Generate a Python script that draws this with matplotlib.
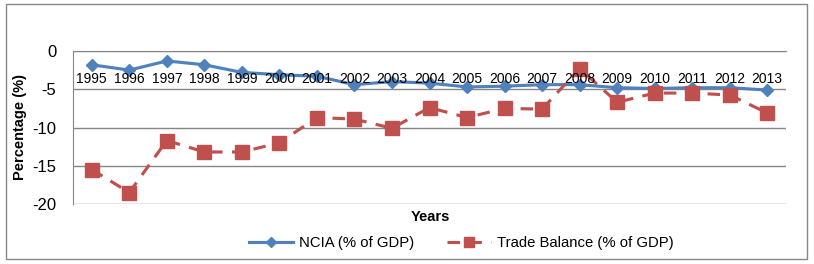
import matplotlib
matplotlib.use("Agg")
import matplotlib.pyplot as plt
from matplotlib.patches import Rectangle

years = ["1995", "1996", "1997", "1998", "1999", "2000", "2001", "2002", "2003", "2004",
         "2005", "2006", "2007", "2008", "2009", "2010", "2011", "2012", "2013"]
ncia = [-1.8, -2.5, -1.3, -1.8, -2.8, -3.1, -3.3, -4.4, -4.0, -4.2,
        -4.7, -4.6, -4.4, -4.4, -4.8, -4.9, -4.8, -4.8, -5.1]
trade = [-15.5, -18.5, -11.7, -13.2, -13.2, -12.0, -8.7, -8.9, -10.1, -7.4,
         -8.7, -7.5, -7.6, -2.3, -6.7, -5.5, -5.5, -5.75, -8.1]
yticks = [0, -5, -10, -15, -20]

plt.rcParams['font.family'] = ['Liberation Sans', 'DejaVu Sans']

fig = plt.figure(figsize=(8.14, 2.64), dpi=100)
ax = fig.add_axes([73/814, 1-204/264, (786-73)/814, (204-51)/264])

x = list(range(len(years)))
blue = '#4F81BD'
red = '#C0504D'
grid = '#868686'

ax.plot(x, ncia, color=blue, lw=2.25, marker='D', ms=6.5, label='NCIA (% of GDP)', zorder=2)
ax.plot(x, trade, color=red, lw=2.25, ls=(0, (4, 3)), marker='s', ms=9.5,
        label='Trade Balance (% of GDP)', zorder=2)

ax.set_xlim(-0.5, len(years) - 0.5)
ax.set_ylim(-20, 0)
ax.set_yticks(yticks)
ax.set_yticklabels([str(v) for v in yticks], fontsize=12)
for v in yticks:
    ax.axhline(v, color=grid, lw=1, zorder=1)

ax.set_xticks(x)
ax.set_xticklabels(years, fontsize=12.5)
ax.set_axisbelow(False)
ax.spines['bottom'].set_position(('data', 0))
ax.spines['bottom'].set_color(grid)
ax.spines['left'].set_color(grid)
ax.spines['top'].set_visible(False)
ax.spines['right'].set_visible(False)
ax.tick_params(axis='x', length=0, pad=15)
ax.tick_params(axis='y', length=0, pad=12)

fig.text(20/814, 1-127/264, 'Percentage (%)', rotation=90, ha='center', va='center',
         fontsize=10.5, fontweight='bold')
fig.text(430/814, 1-217/264, 'Years', ha='center', va='center', fontsize=10.5, fontweight='bold')

leg = fig.legend(loc='center', bbox_to_anchor=(461/814, 1-243/264), ncol=2, frameon=False,
                 fontsize=10.75, handlelength=3.0, columnspacing=2.2, handletextpad=0.35,
                 markerscale=0.8)

fig.patches.append(Rectangle((6/814, 1-259/264), (807-6)/814, (259-4)/264,
                             transform=fig.transFigure, fill=False, edgecolor='#868686', lw=1))

fig.savefig('out.png', dpi=100)
